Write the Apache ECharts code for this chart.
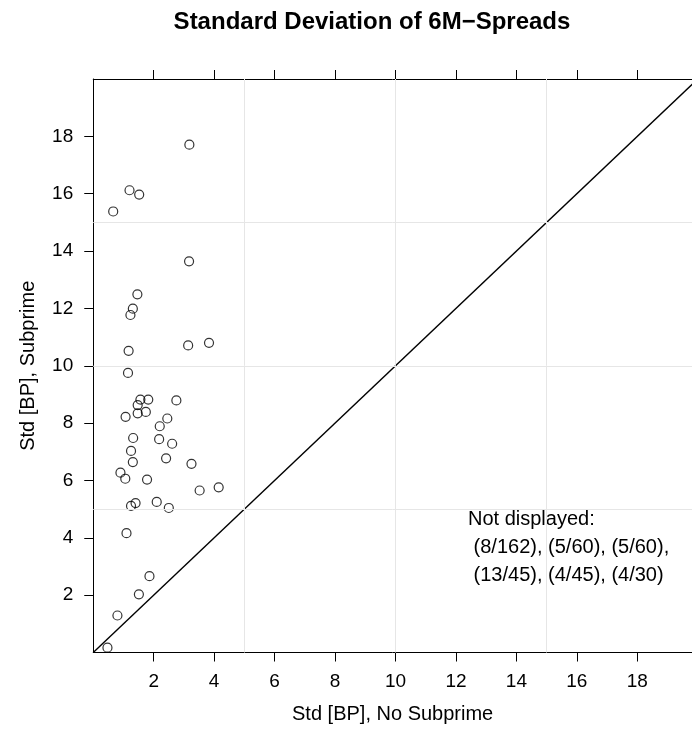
<!DOCTYPE html>
<html>
<head>
<meta charset="utf-8">
<title>Standard Deviation of 6M-Spreads</title>
<script src="https://cdn.jsdelivr.net/npm/echarts@6/dist/echarts.min.js"></script>
<style>
  html, body { margin: 0; padding: 0; background: #fff; }
  #chart { width: 692px; height: 731px; }
</style>
</head>
<body>
<div id="chart"></div>
<script>
// std of spreads per issuer
var stdNoSubprime = [3.18, 1.20, 1.52, 0.66, 3.17, 1.46, 1.31, 1.23, 1.17, 3.14, 3.83,
    1.15, 1.56, 1.82, 2.75, 1.47, 1.47, 1.74, 1.07, 2.45, 2.20, 1.32, 2.18, 2.61,
    1.25, 1.31, 2.41, 3.25, 0.90, 1.06, 1.78, 3.52, 4.15, 1.25, 1.40, 2.10, 2.50,
    1.10, 1.86, 1.51, 0.80, 0.47];
var stdSubprime = [17.71, 16.12, 15.97, 15.38, 13.64, 12.49, 11.99, 11.77, 10.52, 10.71, 10.80,
    9.75, 8.82, 8.82, 8.79, 8.63, 8.34, 8.39, 8.22, 8.16, 7.89, 7.48, 7.44, 7.28,
    7.03, 6.64, 6.77, 6.58, 6.27, 6.06, 6.03, 5.65, 5.76, 5.11, 5.21, 5.25, 5.04,
    4.16, 2.66, 2.03, 1.29, 0.17];
var tickValues = [2, 4, 6, 8, 10, 12, 14, 16, 18];
var refLines = [5, 10, 15];
var notDisplayed = ['(8/162)', '(5/60)', '(5/60)', '(13/45)', '(4/45)', '(4/30)'];

var FONT = 'Liberation Sans, Arial, Helvetica, sans-serif';
// the panel runs a little past the right edge of the picture
var X_MAX = 19.81, Y_MAX = 20;

function buildPoints() {
    var pts = [];
    for (var i = 0; i < stdNoSubprime.length; i++) {
        pts.push([stdNoSubprime[i], stdSubprime[i]]);
    }
    return pts;
}

function makeAxis(pos, max, showLabel, name) {
    return {
        type: 'value',
        position: pos,
        min: 0,
        max: max,
        interval: 2,
        splitLine: { show: false },
        axisLine: { show: true, onZero: false, lineStyle: { color: '#000', width: 1 } },
        axisTick: { show: true, inside: false, length: 9, customValues: tickValues,
            lineStyle: { color: '#000', width: 1 } },
        axisLabel: { show: showLabel, customValues: tickValues, margin: 20,
            color: '#000', fontSize: 19, fontFamily: FONT },
        name: name || '',
        nameLocation: 'middle',
        nameTextStyle: { color: '#000', fontSize: 20, fontFamily: FONT }
    };
}

function initChart() {
    var myChart = echarts.init(document.getElementById('chart'));
    var xBottom = makeAxis('bottom', X_MAX, true, 'Std [BP], No Subprime');
    xBottom.nameGap = 52;
    var yLeft = makeAxis('left', Y_MAX, true, 'Std [BP], Subprime');
    yLeft.nameGap = 55;
    var yRight = makeAxis('right', Y_MAX, false);
    yRight.show = false;
    var line1 = ' ' + notDisplayed.slice(0, 3).join(', ') + ',';
    var line2 = ' ' + notDisplayed.slice(3).join(', ');

    var option = {
        backgroundColor: '#fff',
        animation: false,
        title: {
            text: 'Standard Deviation of 6M\u2212Spreads',
            left: 367,
            top: 5,
            textAlign: 'center',
            textStyle: { fontSize: 24, fontWeight: 'bold', color: '#000', fontFamily: FONT }
        },
        grid: { left: 93.25, top: 79, right: 0, bottom: 78.5 },
        xAxis: [xBottom, makeAxis('top', X_MAX, false)],
        yAxis: [yLeft, yRight],
        graphic: [{
            type: 'text',
            left: 468,
            top: 505,
            style: {
                text: 'Not displayed:\n' + line1 + '\n' + line2,
                fontSize: 20,
                lineHeight: 28,
                fontFamily: FONT,
                fill: '#000'
            }
        }],
        series: [
            {
                // light reference lines at 5, 10, 15
                type: 'line',
                data: [],
                silent: true,
                z: 1,
                markLine: {
                    silent: true,
                    symbol: ['none', 'none'],
                    label: { show: false },
                    lineStyle: { color: '#e6e6e6', width: 1, type: 'solid' },
                    data: refLines.map(function (v) { return { xAxis: v }; })
                        .concat(refLines.map(function (v) { return { yAxis: v }; }))
                }
            },
            {
                type: 'line',
                data: [[0, 0], [20, 20]],
                showSymbol: false,
                silent: true,
                z: 2,
                lineStyle: { color: '#000', width: 1.4 }
            },
            {
                type: 'scatter',
                data: buildPoints(),
                symbol: 'circle',
                symbolSize: 9,
                z: 3,
                itemStyle: { color: 'rgba(0,0,0,0)', borderColor: '#000', borderWidth: 1.2 }
            }
        ]
    };
    myChart.setOption(option);
}
initChart();
</script>
</body>
</html>
